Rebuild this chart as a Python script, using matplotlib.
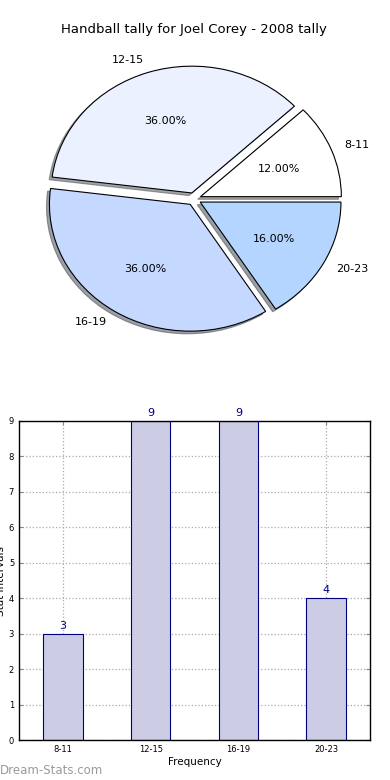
import matplotlib
matplotlib.use("Agg")
import matplotlib.pyplot as plt

categories = ["8-11", "12-15", "16-19", "20-23"]
counts = [3, 9, 9, 4]
pie_colors = ["#FFFFFF", "#EBF1FF", "#C5D8FF", "#B3D5FF"]
title = "Handball tally for Joel Corey - 2008 tally"

plt.rcParams['font.family'] = ['DejaVu Sans']
fig = plt.figure(figsize=(3.9, 7.8), dpi=100)

W, H = 390.0, 780.0
cx, cy = 194.0, 199.0
Rx, Ry = 140.8, 126.8
ax_xl, ax_yl = 1.35, 1.3
left = (cx - ax_xl * Rx) / W
width = 2 * ax_xl * Rx / W
top_px = cy - ax_yl * Ry
height = 2 * ax_yl * Ry / H
bottom = 1 - (top_px / H) - height
ax1 = fig.add_axes([left, bottom, width, height])
wedges, texts, autotexts = ax1.pie(
    counts, labels=categories, colors=pie_colors, explode=[0.05] * 4,
    autopct="%.2f%%", shadow=dict(ox=-0.015, oy=-0.015), startangle=0,
    wedgeprops=dict(edgecolor="black", linewidth=0.8),
    textprops=dict(fontsize=8), labeldistance=1.1, pctdistance=0.6)
ax1.set_aspect('auto')
ax1.set_xlim(-ax_xl, ax_xl)
ax1.set_ylim(-ax_yl, ax_yl)
ax1.axis('off')
fig.text(194 / W, 1 - 30 / H, title, ha='center', va='center', fontsize=9.5)

# Bar chart
ax2 = fig.add_axes([19 / W, 40 / H, 351 / W, 319 / H])
x = list(range(len(categories)))
ax2.bar(x, counts, width=0.45, color="#CCCCE5", edgecolor="#000080", linewidth=0.8, zorder=2)
for xi, v in zip(x, counts):
    ax2.text(xi, v + 0.08, str(v), ha='center', va='bottom', color="#000080", fontsize=8)
ax2.set_xlim(-0.5, 3.5)
ax2.set_ylim(0, 9)
ax2.set_yticks(range(10))
ax2.set_xticks(x)
ax2.set_xticklabels(categories)
ax2.tick_params(axis='both', direction='in', labelsize=6, length=3, color='#888888',
                top=True, right=True)
ax2.grid(True, linestyle=':', color='#AAAAAA', linewidth=0.9, zorder=0)
ax2.set_axisbelow(True)
ax2.set_xlabel("Frequency", fontsize=7.5, labelpad=2)
ax2.set_ylabel("Stat intervals", fontsize=7.5, labelpad=2)
for s in ax2.spines.values():
    s.set_linewidth(1.0)

fig.text(0.0, 1 - 771 / H, "Dream-Stats.com", fontsize=8.5, color="#9A9A9A",
         ha='left', va='center')

fig.savefig("out.png", dpi=100)
